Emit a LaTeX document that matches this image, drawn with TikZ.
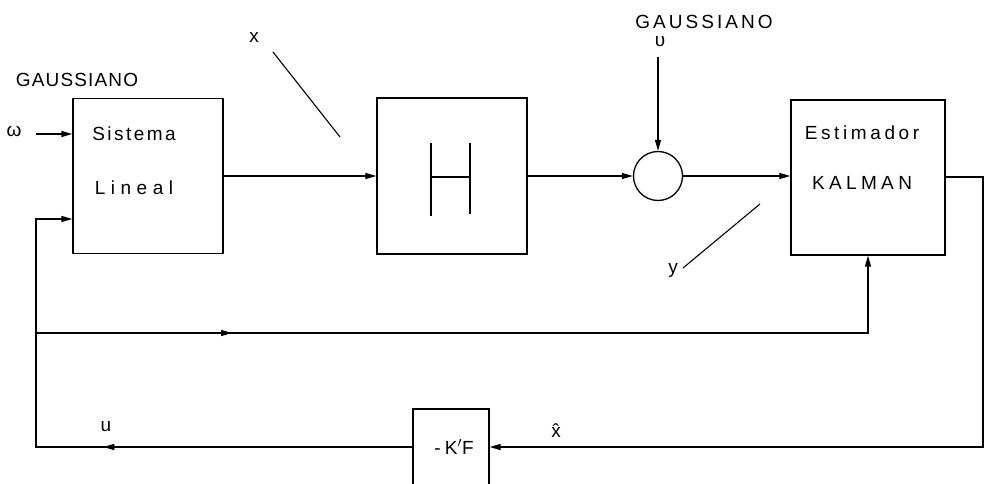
\documentclass[tikz,border=0pt]{standalone}
\usepackage{fontspec}
\setmainfont{Liberation Sans}
\usetikzlibrary{arrows.meta,decorations.markings}
\newcommand{\ls}[1]{\addfontfeature{LetterSpace=#1}}
\begin{document}
\begin{tikzpicture}[x=1pt,y=-1pt,
  line width=1.3pt,
  tip/.style={-{Triangle[length=11pt,width=6pt]}},
  blockbox/.style={draw,rectangle,inner sep=0pt},
  lbl/.style={inner sep=0pt,font=\fontsize{19}{21}\selectfont},
  midtip/.style={postaction={decorate},decoration={markings,mark=at position #1 with {\arrow{Triangle[length=11pt,width=6pt]}}}}
]
\useasboundingbox (0,0) rectangle (985,484);

% blocks
\node[blockbox,minimum width=150pt,minimum height=155pt] (sys) at (148,176) {};
\node[blockbox,minimum width=150pt,minimum height=156pt] (hbox) at (452,176) {};
\node[draw,circle,minimum size=49pt,inner sep=0pt] (sum) at (658,176) {};
\node[blockbox,minimum width=154pt,minimum height=155pt] (kal) at (868,177.5) {};
\node[blockbox,minimum width=76pt,minimum height=76pt] (kf) at (451,447) {};

% texts in blocks
\node[lbl] (t1) at (134,134) {\ls{13}Sistema};
\node[lbl] (t2) at (134,188) {\ls{29}Lineal};
\node[lbl] (t3) at (862,133) {\ls{19}Estimador};
\node[lbl] (t4) at (862,183) {\ls{23}KALMAN};
\node[lbl] (t5) at (454,447) {\ls{22}-K$'$F};

% H symbol
\draw (431,143) -- (431,216);
\draw (470,143) -- (470,214);
\draw (431,177) -- (470,177);

% labels
\node[lbl] (g1) at (77,80) {\ls{6}GAUSSIANO};
\node[lbl] (g2) at (704,22) {\ls{16}GAUSSIANO};
\node[lbl] (om) at (14,131) {ω};
\node[lbl] (up) at (660,42) {υ};
\node[lbl] (lx) at (254,37) {x};
\node[lbl] (ly) at (673,270) {y};
\node[lbl] (lu) at (106,427) {u};
\node[lbl] (lxh) at (556,431) {\^{x}};

% slashes
\draw[line width=1.1pt] (273,52) -- (340,137);
\draw[line width=1.1pt] (683,268) -- (760,204);

% coordinates
\coordinate (w0) at (36,134);
\coordinate (jn) at (36,333);
\coordinate (bl) at (36,447);
\coordinate (fb) at (36,219);
\coordinate (kb) at (868,333);
\coordinate (top) at (658,57);
\coordinate (re) at (983,177);
\coordinate (rb) at (983,447);

% connectors
\draw[tip] (w0) -- (w0 -| sys.west);
\draw[tip] (sys.east) -- (hbox.west);
\draw[tip] (hbox.east) -- (sum.west);
\draw[tip] (top) -- (sum.north);
\draw[tip] (sum.east) -- (sum.east -| kal.west);
\draw[tip] (kal.east |- re) -- (re) -- (rb) -- (kf.east);
\draw[tip,midtip=309pt] (kf.west) -- (bl) -- (fb) -- (fb -| sys.west);
\draw[tip,midtip=196pt] (jn) -- (kb) -- (kal.south);
\end{tikzpicture}
\end{document}
